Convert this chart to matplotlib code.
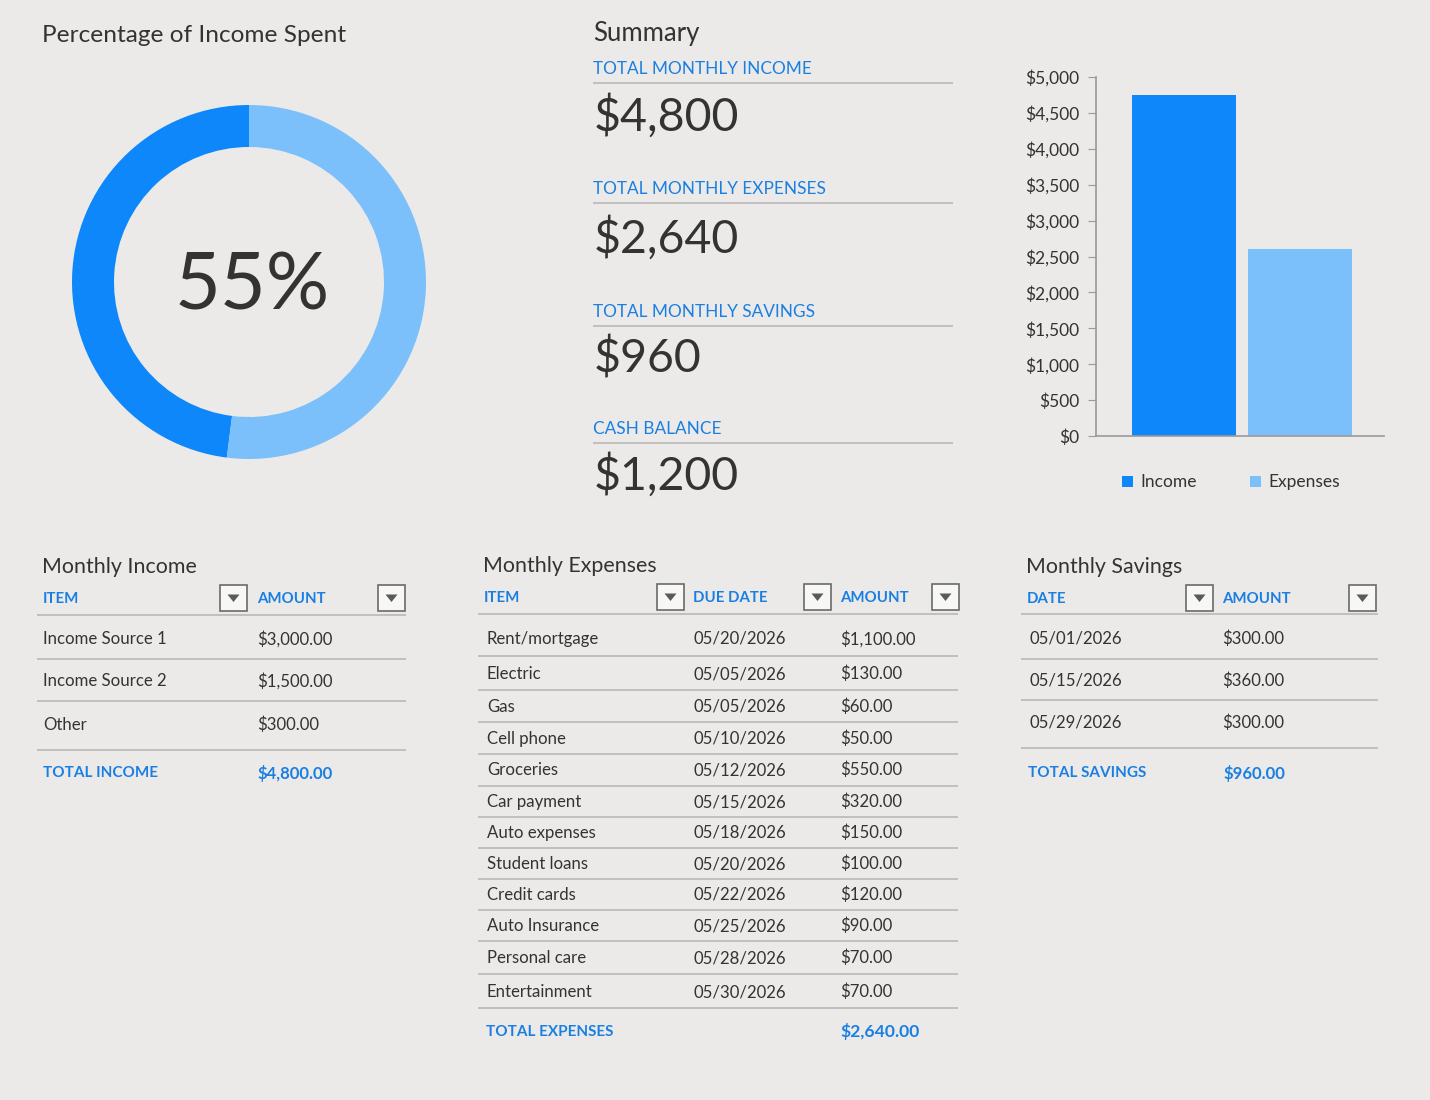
import matplotlib
matplotlib.use('Agg')
import matplotlib.pyplot as plt
from matplotlib.patches import Rectangle, Polygon
import numpy as np

plt.rcParams['font.family'] = ['Lato', 'DejaVu Sans']

# data
donut_parts = [48, 52]          # spent / remaining, as drawn
donut_label = '55%'
summary_labels = ['TOTAL MONTHLY INCOME', 'TOTAL MONTHLY EXPENSES', 'TOTAL MONTHLY SAVINGS', 'CASH BALANCE']
summary_values = ['$4,800', '$2,640', '$960', '$1,200']
bar_names = ['Income', 'Expenses']
bar_values = [4750, 2600]
bar_ticks = [0, 500, 1000, 1500, 2000, 2500, 3000, 3500, 4000, 4500, 5000]

income_items = ['Income Source 1', 'Income Source 2', 'Other']
income_amounts = [3000, 1500, 300]
income_total = 4800

expense_items = ['Rent/mortgage', 'Electric', 'Gas', 'Cell phone', 'Groceries', 'Car payment',
                 'Auto expenses', 'Student loans', 'Credit cards', 'Auto Insurance',
                 'Personal care', 'Entertainment']
expense_dates = ['05/20/2026', '05/05/2026', '05/05/2026', '05/10/2026', '05/12/2026', '05/15/2026',
                 '05/18/2026', '05/20/2026', '05/22/2026', '05/25/2026', '05/28/2026', '05/30/2026']
expense_amounts = [1100, 130, 60, 50, 550, 320, 150, 100, 120, 90, 70, 70]
expense_total = 2640

savings_dates = ['05/01/2026', '05/15/2026', '05/29/2026']
savings_amounts = [300, 360, 300]
savings_total = 960

BG = '#EBEAE8'
DARK = '#0D87FA'
LIGHT = '#7CC0FB'
BLUE_TXT = '#1A7FE3'
TXT = '#333333'
LINE = '#BDBCBA'
HDR = 10.8     # blue header size
ROW = 12.1     # row text size

W, H = 1430, 1100
fig = plt.figure(figsize=(W / 100, H / 100), dpi=100, facecolor=BG)

# overlay axes in pixel coords
bg = fig.add_axes([0, 0, 1, 1])
bg.set_xlim(0, W)
bg.set_ylim(H, 0)
bg.axis('off')
bg.patch.set_alpha(0)


def money(v):
    return f'${v:,.2f}'


def hline(x0, x1, y, lw=1.3):
    bg.plot([x0, x1], [y, y], color=LINE, lw=lw, solid_capstyle='butt')


def dropdown(x0, y0):
    bg.add_patch(Rectangle((x0, y0), 27, 26, facecolor='#F7F7F6', edgecolor='#6A6A6A', lw=1.2))
    cx, cy = x0 + 13.5, y0 + 13
    bg.add_patch(Polygon([[cx - 6, cy - 3.5], [cx + 6, cy - 3.5], [cx, cy + 4]], closed=True,
                         facecolor='#5A5A5A', edgecolor='none'))


def header(x, y, s, size=HDR):
    bg.text(x, y, s, fontsize=size, color=BLUE_TXT, va='center', fontweight='bold')


def cell(x, y, s):
    bg.text(x, y, s, fontsize=ROW, color=TXT, va='center')


# ---- donut ----
cx, cy, r = 249, 282, 177
dax = fig.add_axes([(cx - r) / W, 1 - (cy + r) / H, 2 * r / W, 2 * r / H])
dax.pie(donut_parts, colors=[DARK, LIGHT], startangle=90, counterclock=True,
        radius=1, wedgeprops=dict(width=42 / 177, edgecolor='none'))
dax.set_xlim(-1, 1)
dax.set_ylim(-1, 1)
dax.set_aspect('auto')
dax.text(0.02, -0.03, donut_label, ha='center', va='center', fontsize=57, color=TXT)

bg.text(42, 36, 'Percentage of Income Spent', fontsize=17.6, color=TXT, va='center')

# ---- summary ----
bg.text(593, 34, 'Summary', fontsize=18.5, color=TXT, va='center')
lab_y = [69, 189, 312, 429]
val_y = [116, 238, 359, 475]
for lab, val, ly, vy in zip(summary_labels, summary_values, lab_y, val_y):
    bg.text(593, ly, lab, fontsize=12.4, color=BLUE_TXT, va='center')
    hline(593, 953, ly + 14)
    bg.text(594, vy, val, fontsize=33.5, color=TXT, va='center')

# ---- bar chart ----
px0, px1, py0, py1 = 1096, 1384, 77, 436
bax = fig.add_axes([px0 / W, 1 - py1 / H, (px1 - px0) / W, (py1 - py0) / H])
bax.patch.set_alpha(0)
xs = np.arange(len(bar_values))
bax.bar(xs, bar_values, width=0.9, color=[DARK, LIGHT])
bax.set_xlim(-0.762, 1.73)
bax.set_ylim(0, 5000)
bax.set_yticks(bar_ticks)
bax.set_yticklabels([f'${t:,}' for t in bar_ticks], fontsize=12.5, color=TXT)
bax.set_xticks([])
for s in ['top', 'right']:
    bax.spines[s].set_visible(False)
for s in ['left', 'bottom']:
    bax.spines[s].set_color('#9A9A9A')
    bax.spines[s].set_linewidth(1.2)
bax.tick_params(axis='y', length=6, color='#9A9A9A', pad=6)

leg_x = [1127, 1255]
for name, col, lx in zip(bar_names, [DARK, LIGHT], leg_x):
    bg.add_patch(Rectangle((lx - 5, 476), 11, 11, facecolor=col, edgecolor='none'))
    bg.text(lx + 13, 482, name, fontsize=12.5, color=TXT, va='center')

# ---- Monthly Income table ----
bg.text(42, 567, 'Monthly Income', fontsize=15.4, color=TXT, va='center')
header(43, 599, 'ITEM')
header(257, 599, 'AMOUNT')
dropdown(220, 585)
dropdown(378, 585)
hline(37, 406, 615)
inc_row_y = [639, 681, 725]
inc_line_y = [659, 701, 750]
for it, am, ry, ly in zip(income_items, income_amounts, inc_row_y, inc_line_y):
    cell(43, ry, it)
    cell(257, ry, money(am))
    hline(37, 406, ly)
header(43, 773, 'TOTAL INCOME', 11)
header(257, 773, money(income_total), 12)

# ---- Monthly Expenses table ----
bg.text(483, 566, 'Monthly Expenses', fontsize=15.4, color=TXT, va='center')
for hx, h in zip([484, 693, 840], ['ITEM', 'DUE DATE', 'AMOUNT']):
    header(hx, 598, h)
for bx in [657, 804, 932]:
    dropdown(bx, 584)
hline(478, 958, 614)
exp_row_y = [639, 674, 707, 739, 770, 802, 833, 864, 895, 926, 958, 992]
exp_line_y = [656, 690, 722, 754, 786, 817, 848, 879, 910, 941, 974, 1008]
for it, dt, am, ry, ly in zip(expense_items, expense_dates, expense_amounts, exp_row_y, exp_line_y):
    cell(487, ry, it)
    cell(694, ry, dt)
    cell(840, ry, money(am))
    hline(478, 958, ly)
header(486, 1032, 'TOTAL EXPENSES', 11)
header(840, 1032, money(expense_total), 12.6)

# ---- Monthly Savings table ----
bg.text(1026, 567, 'Monthly Savings', fontsize=15.4, color=TXT, va='center')
header(1027, 599, 'DATE')
header(1222, 599, 'AMOUNT')
dropdown(1186, 585)
dropdown(1349, 585)
hline(1021, 1378, 614)
sav_row_y = [639, 681, 723]
sav_line_y = [659, 700, 748]
for dt, am, ry, ly in zip(savings_dates, savings_amounts, sav_row_y, sav_line_y):
    cell(1029, ry, dt)
    cell(1222, ry, money(am))
    hline(1021, 1378, ly)
header(1028, 773, 'TOTAL SAVINGS', 11)
header(1223, 773, money(savings_total), 12)

fig.savefig('out.png', dpi=100, facecolor=BG)
